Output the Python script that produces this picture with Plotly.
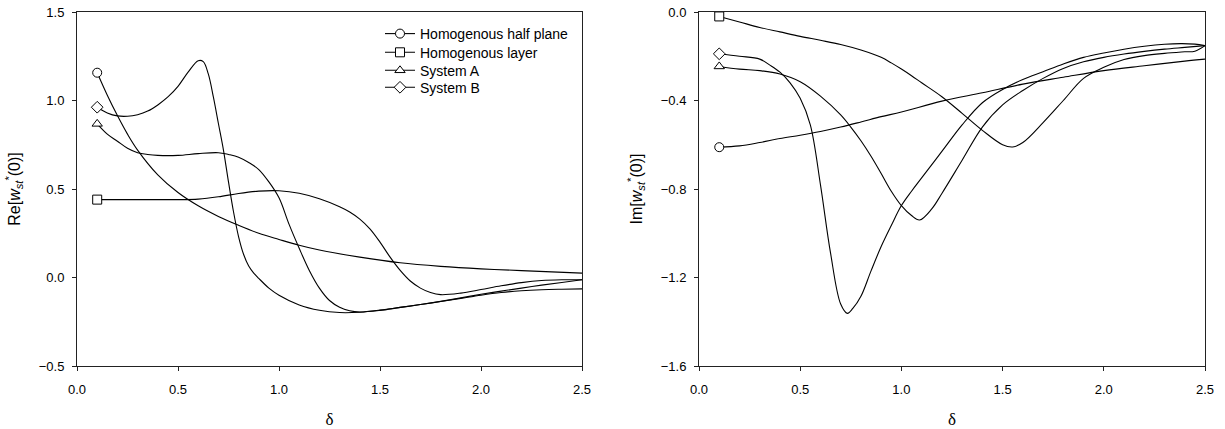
import plotly.graph_objects as go

# ---------------- data ----------------
series_names = ["Homogenous half plane", "Homogenous layer", "System A", "System B"]
series_symbols = ["circle", "square", "triangle-up", "diamond"]

# Left panel: Re[w_st*(0)]
re_half_x = [0.1, 0.15, 0.2, 0.25, 0.3, 0.4, 0.5, 0.6, 0.7, 0.8, 0.9, 1.0, 1.1, 1.2, 1.4, 1.6, 1.8, 2.0, 2.2, 2.5]
re_half_y = [1.157, 1.03, 0.915, 0.81, 0.72, 0.58, 0.48, 0.405, 0.345, 0.295, 0.25, 0.215, 0.182, 0.155, 0.115, 0.083, 0.063, 0.049, 0.039, 0.025]

re_layer_x = [0.1, 0.2, 0.3, 0.4, 0.5, 0.6, 0.7, 0.8, 0.9, 1.0, 1.1, 1.2, 1.3, 1.35, 1.4, 1.45, 1.5, 1.55, 1.6, 1.65, 1.7, 1.75, 1.8, 1.9, 2.0, 2.1, 2.2, 2.3, 2.4, 2.5]
re_layer_y = [0.44, 0.44, 0.44, 0.44, 0.44, 0.443, 0.456, 0.475, 0.488, 0.49, 0.476, 0.445, 0.4, 0.37, 0.33, 0.275, 0.2, 0.115, 0.04, -0.02, -0.06, -0.085, -0.097, -0.088, -0.068, -0.047, -0.029, -0.017, -0.013, -0.013]

re_a_x = [0.1, 0.15, 0.2, 0.25, 0.3, 0.35, 0.4, 0.5, 0.6, 0.7, 0.75, 0.8, 0.85, 0.9, 0.95, 1.0, 1.05, 1.1, 1.15, 1.2, 1.25, 1.3, 1.35, 1.4, 1.5, 1.6, 1.7, 1.8, 1.9, 2.0, 2.1, 2.2, 2.3, 2.4, 2.5]
re_a_y = [0.868, 0.81, 0.77, 0.73, 0.705, 0.695, 0.69, 0.69, 0.70, 0.705, 0.695, 0.68, 0.65, 0.61, 0.54, 0.45, 0.3, 0.165, 0.04, -0.06, -0.13, -0.168, -0.188, -0.195, -0.186, -0.169, -0.153, -0.136, -0.118, -0.1, -0.085, -0.075, -0.069, -0.066, -0.064]

re_b_x = [0.1, 0.15, 0.2, 0.25, 0.3, 0.35, 0.4, 0.45, 0.5, 0.55, 0.6, 0.625, 0.65, 0.675, 0.7, 0.725, 0.75, 0.775, 0.8, 0.825, 0.85, 0.875, 0.9, 0.95, 1.0, 1.1, 1.2, 1.3, 1.4, 1.5, 1.6, 1.7, 1.8, 1.9, 2.0, 2.1, 2.2, 2.3, 2.4, 2.5]
re_b_y = [0.962, 0.93, 0.913, 0.911, 0.92, 0.94, 0.975, 1.02, 1.08, 1.16, 1.225, 1.22, 1.15, 1.02, 0.87, 0.72, 0.54, 0.37, 0.23, 0.13, 0.065, 0.025, -0.005, -0.06, -0.1, -0.155, -0.185, -0.198, -0.196, -0.184, -0.169, -0.153, -0.135, -0.115, -0.095, -0.077, -0.06, -0.043, -0.028, -0.013]

# Right panel: Im[w_st*(0)]
im_half_x = [0.1, 0.2, 0.3, 0.4, 0.5, 0.6, 0.7, 0.8, 0.9, 1.0, 1.2, 1.4, 1.6, 1.8, 2.0, 2.2, 2.4, 2.5]
im_half_y = [-0.611, -0.605, -0.59, -0.572, -0.557, -0.54, -0.52, -0.497, -0.473, -0.452, -0.403, -0.365, -0.326, -0.295, -0.265, -0.243, -0.222, -0.213]

im_layer_x = [0.1, 0.2, 0.3, 0.4, 0.5, 0.6, 0.7, 0.8, 0.9, 0.95, 1.0, 1.05, 1.1, 1.2, 1.3, 1.4, 1.5, 1.55, 1.6, 1.7, 1.8, 1.9, 2.0, 2.1, 2.2, 2.3, 2.4, 2.45, 2.5]
im_layer_y = [-0.02, -0.045, -0.07, -0.09, -0.11, -0.128, -0.147, -0.172, -0.205, -0.23, -0.258, -0.288, -0.32, -0.383, -0.458, -0.535, -0.6, -0.61, -0.59, -0.5, -0.4, -0.3, -0.25, -0.215, -0.197, -0.187, -0.18, -0.177, -0.152]

im_a_x = [0.1, 0.2, 0.3, 0.4, 0.5, 0.6, 0.7, 0.75, 0.8, 0.85, 0.9, 0.95, 1.0, 1.05, 1.09, 1.15, 1.2, 1.3, 1.4, 1.5, 1.6, 1.7, 1.8, 1.9, 2.0, 2.1, 2.2, 2.3, 2.4, 2.5]
im_a_y = [-0.246, -0.258, -0.265, -0.28, -0.315, -0.38, -0.465, -0.52, -0.582, -0.652, -0.73, -0.81, -0.875, -0.92, -0.94, -0.89, -0.82, -0.67, -0.52, -0.42, -0.355, -0.3, -0.255, -0.225, -0.205, -0.19, -0.178, -0.168, -0.16, -0.152]

im_b_x = [0.1, 0.2, 0.3, 0.35, 0.4, 0.45, 0.5, 0.55, 0.6, 0.65, 0.7, 0.733, 0.76, 0.8, 0.85, 0.9, 0.95, 1.0, 1.05, 1.1, 1.2, 1.3, 1.4, 1.5, 1.6, 1.7, 1.8, 1.9, 2.0, 2.1, 2.2, 2.3, 2.38, 2.45, 2.5]
im_b_y = [-0.189, -0.2, -0.213, -0.24, -0.272, -0.32, -0.39, -0.51, -0.78, -1.09, -1.32, -1.362, -1.34, -1.285, -1.17, -1.06, -0.965, -0.875, -0.81, -0.75, -0.63, -0.51, -0.41, -0.35, -0.305, -0.27, -0.235, -0.205, -0.185, -0.168, -0.155, -0.146, -0.143, -0.145, -0.152]

x_ticks = [0.0, 0.5, 1.0, 1.5, 2.0, 2.5]
re_ticks = [-0.5, 0.0, 0.5, 1.0, 1.5]
im_ticks = [-1.6, -1.2, -0.8, -0.4, 0.0]

# ---------------- figure ----------------
W, H = 1225, 429
ML, MR, MT, MB = 77, 20, 12, 63
PW, PH = W - ML - MR, H - MT - MB
SANS = "Liberation Sans, Arial, Helvetica, sans-serif"
SERIF = "Liberation Serif, Times New Roman, serif"

fig = go.Figure()

left = [(re_half_x, re_half_y), (re_layer_x, re_layer_y), (re_a_x, re_a_y), (re_b_x, re_b_y)]
right = [(im_half_x, im_half_y), (im_layer_x, im_layer_y), (im_a_x, im_a_y), (im_b_x, im_b_y)]

for panel, (xa, ya) in ((left, ("x", "y")), (right, ("x2", "y2"))):
    for (xs, ys) in panel:
        fig.add_trace(go.Scatter(x=xs, y=ys, mode="lines", xaxis=xa, yaxis=ya,
                                 line=dict(color="black", width=1.1, shape="spline", smoothing=1.0),
                                 showlegend=False, hoverinfo="skip"))

legend_keys = ["legend", "legend2", "legend3", "legend4"]
for panel, (xa, ya), show in ((left, ("x", "y"), True), (right, ("x2", "y2"), False)):
    for i, ((xs, ys), name, sym) in enumerate(zip(panel, series_names, series_symbols)):
        fig.add_trace(go.Scatter(x=[xs[0]], y=[ys[0]], mode="lines+markers", xaxis=xa, yaxis=ya,
                                 name=name, showlegend=show, legend=legend_keys[i],
                                 line=dict(color="black", width=1.1),
                                 marker=dict(symbol=sym, size=9, color="white",
                                             line=dict(color="black", width=1))))

axis_common = dict(showline=True, linecolor="#222", linewidth=1, mirror=True,
                   ticks="outside", ticklen=4, tickcolor="#222", tickwidth=1,
                   showgrid=False, zeroline=False, automargin=False,
                   tickfont=dict(family=SANS, size=13, color="black"))

x_left = [0, (582 - ML) / PW]
x_right = [(699 - ML) / PW, 1]

legend_rows_px = [34, 52.7, 70.7, 87.7]
legend_common = dict(xanchor="left", yanchor="middle", bgcolor="rgba(0,0,0,0)", borderwidth=0,
                     font=dict(family=SANS, size=14, color="black"))
legends = {}
for key, ypx in zip(legend_keys, legend_rows_px):
    legends[key] = dict(x=(380 - ML) / PW, y=(H - MB - ypx) / PH, **legend_common)

fig.update_layout(
    width=W, height=H,
    margin=dict(l=ML, r=MR, t=MT, b=MB, pad=0, autoexpand=False),
    paper_bgcolor="white", plot_bgcolor="white",
    font=dict(family=SANS, color="black"),
    xaxis=dict(domain=x_left, range=[0, 2.5], tickvals=x_ticks, tickformat=".1f",
               anchor="y", ticklabelstandoff=7,
               title=dict(text="δ", font=dict(family=SERIF, size=17), standoff=17),
               **axis_common),
    yaxis=dict(domain=[0, 1], range=[-0.5, 1.5], tickvals=re_ticks, tickformat=".1f",
               anchor="x", ticklabelstandoff=5,
               title=dict(text="Re[<i>w</i><sub><i>st</i></sub><sup>*</sup>(0)]",
                          font=dict(family=SANS, size=16), standoff=14),
               **axis_common),
    xaxis2=dict(domain=x_right, range=[0, 2.5], tickvals=x_ticks, tickformat=".1f",
                anchor="y2", ticklabelstandoff=7,
                title=dict(text="δ", font=dict(family=SERIF, size=17), standoff=17),
                **axis_common),
    yaxis2=dict(domain=[0, 1], range=[-1.6, 0.0], tickvals=im_ticks, tickformat=".1f",
                anchor="x2", ticklabelstandoff=5,
                title=dict(text="Im[<i>w</i><sub><i>st</i></sub><sup>*</sup>(0)]",
                           font=dict(family=SANS, size=16), standoff=14),
                **axis_common),
    **legends,
)

fig.write_html("out.html", config={"displayModeBar": False},
               post_script="document.body.style.margin='0';")
